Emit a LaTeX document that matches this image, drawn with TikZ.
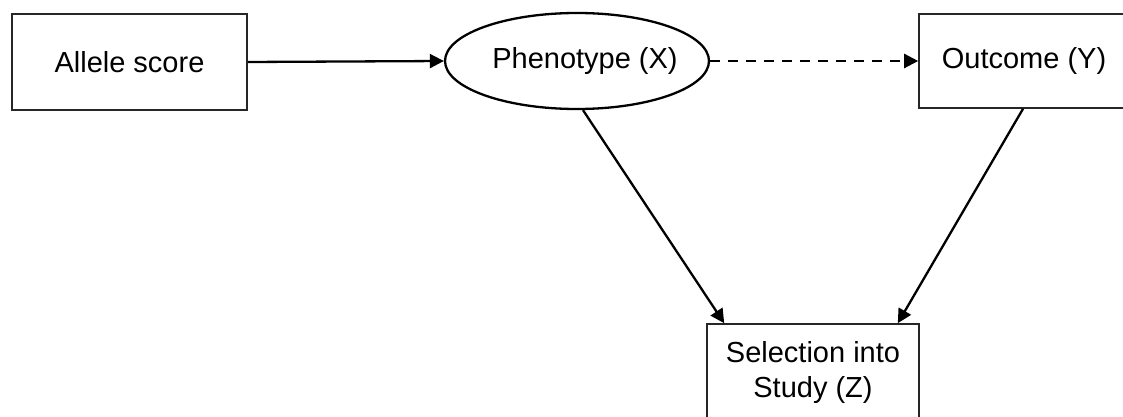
\documentclass[tikz,border=0pt]{standalone}
\usepackage{fontspec}
\setmainfont{Liberation Sans}
\usetikzlibrary{arrows.meta,shapes.geometric,calc}
\begin{document}
\begin{tikzpicture}[x=1pt,y=-1pt,
  every node/.style={font=\fontsize{29}{35}\selectfont, inner sep=0pt},
  box/.style={draw=black!85, line width=1.6pt, rectangle},
  oval/.style={draw=black, line width=2.3pt, ellipse},
  conn/.style={line width=2.3pt, -{Triangle[length=14pt,width=14pt]}},
  dashconn/.style={conn, dash pattern=on 10pt off 8pt}]
\useasboundingbox (0,0) rectangle (1123,417);
\node[box, minimum width=235pt, minimum height=96pt] (allele) at (129.5,62) {Allele score};
\node[oval, minimum width=264pt, minimum height=96pt,
  label={[xshift=8pt]center:Phenotype (X)}] (phen) at (577,61) {};
\node[box, minimum width=210pt, minimum height=94pt] (out) at (1024,61) {Outcome (Y)};
\node[box, minimum width=212pt, minimum height=96pt, align=center] (sel) at (813,372) {Selection into\\Study (Z)};
\coordinate (ps) at ($(phen.south)+(6,0)$);
\coordinate (ts1) at ($(sel.north west)+(18,0)$);
\coordinate (os) at ($(out.south)+(-1,0)$);
\coordinate (ts2) at ($(sel.north east)+(-22,0)$);
\draw[conn] (allele.east) -- (phen.west);
\draw[dashconn] (phen.east) -- (out.west);
\draw[conn] (ps) -- (ts1);
\draw[conn] (os) -- (ts2);
\end{tikzpicture}
\end{document}
